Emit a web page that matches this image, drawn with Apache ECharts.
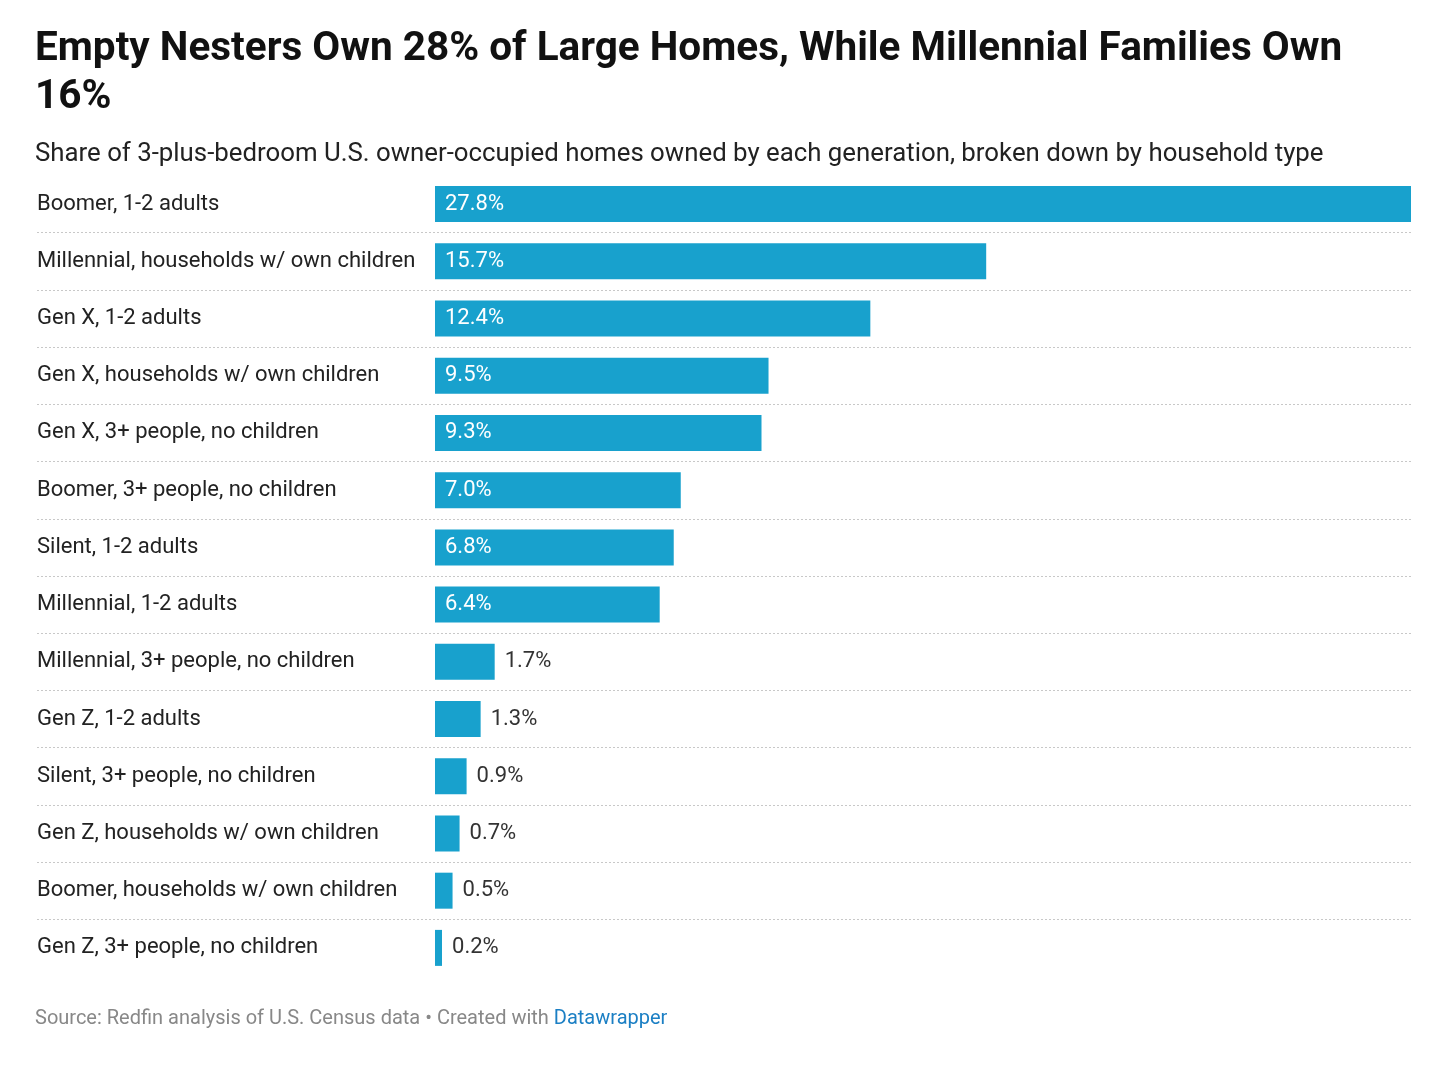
<!DOCTYPE html>
<html>
<head>
<meta charset="utf-8">
<script src="https://cdn.jsdelivr.net/npm/echarts@6/dist/echarts.min.js"></script>
<style>
  html, body { margin: 0; padding: 0; background: #fff; }
  #main { width: 1440px; height: 1080px; }
</style>
</head>
<body>
<div id="main"></div>
<script>
// categories, top to bottom
const categories = [
    "Boomer, 1-2 adults",
    "Millennial, households w/ own children",
    "Gen X, 1-2 adults",
    "Gen X, households w/ own children",
    "Gen X, 3+ people, no children",
    "Boomer, 3+ people, no children",
    "Silent, 1-2 adults",
    "Millennial, 1-2 adults",
    "Millennial, 3+ people, no children",
    "Gen Z, 1-2 adults",
    "Silent, 3+ people, no children",
    "Gen Z, households w/ own children",
    "Boomer, households w/ own children",
    "Gen Z, 3+ people, no children"
]
const shares = [27.8, 15.7, 12.4, 9.5, 9.3, 7.0, 6.8, 6.4, 1.7, 1.3, 0.9, 0.7, 0.5, 0.2]

const font = "Roboto, 'Noto Sans', sans-serif"
const barColor = "#18a1cd"

// big bars get the label inside, small ones outside
let barData = shares.map(v => ({
    value: v,
    label: v > 3
        ? { position: 'insideLeft', color: '#fff', distance: 10 }
        : { position: 'right', color: '#333', distance: 10 }
}))

const gridTop = 175.5, gridBottom = 1080 - 976.5

var myChart = echarts.init(document.getElementById('main'))
let option = {
    backgroundColor: '#fff',
    animation: false,
    title: [
        {
            text: 'Empty Nesters Own 28% of Large Homes, While Millennial Families Own\n16%',
            left: 30, top: 21,
            textStyle: { fontFamily: font, fontSize: 40.5, fontWeight: 'bold', color: '#111', lineHeight: 48 }
        },
        {
            text: 'Share of 3-plus-bedroom U.S. owner-occupied homes owned by each generation, broken down by household type',
            left: 30, top: 137,
            textStyle: { fontFamily: font, fontSize: 25.8, fontWeight: 'normal', color: '#222' }
        },
        {
            text: '{g|Source: Redfin analysis of U.S. Census data • Created with }{b|Datawrapper}',
            left: 30, top: 1004,
            textStyle: {
                rich: {
                    g: { fontFamily: font, fontSize: 20, fontWeight: 'normal', color: '#888' },
                    b: { fontFamily: font, fontSize: 20, fontWeight: 'normal', color: '#1b7fc4' }
                }
            }
        }
    ],
    grid: [
        { left: 435, right: 29, top: gridTop, bottom: gridBottom },
        { left: 37, right: 29, top: gridTop, bottom: gridBottom }
    ],
    xAxis: [
        { type: 'value', gridIndex: 0, min: 0, max: 27.8, show: false },
        { type: 'value', gridIndex: 1, min: 0, max: 1, show: false }
    ],
    yAxis: [
        {
            type: 'category', gridIndex: 0, inverse: true, data: categories,
            axisLine: { show: false }, axisTick: { show: false },
            axisLabel: { align: 'left', margin: 398, fontFamily: font, fontSize: 22, color: '#222' }
        },
        {
            // only for the dotted row separators across the whole width
            type: 'category', gridIndex: 1, inverse: true, data: categories,
            axisLine: { show: false }, axisTick: { show: false }, axisLabel: { show: false },
            splitLine: { show: true, showMinLine: false, showMaxLine: false, lineStyle: { color: '#c8c8c8', type: [2, 2], width: 1 } }
        }
    ],
    series: [
        {
            type: 'bar',
            xAxisIndex: 0, yAxisIndex: 0,
            data: barData,
            barWidth: 36,
            itemStyle: { color: barColor },
            label: {
                show: true,
                fontFamily: font, fontSize: 22,
                formatter: p => p.value.toFixed(1) + '%'
            }
        }
    ]
}
myChart.setOption(option)
</script>
</body>
</html>
